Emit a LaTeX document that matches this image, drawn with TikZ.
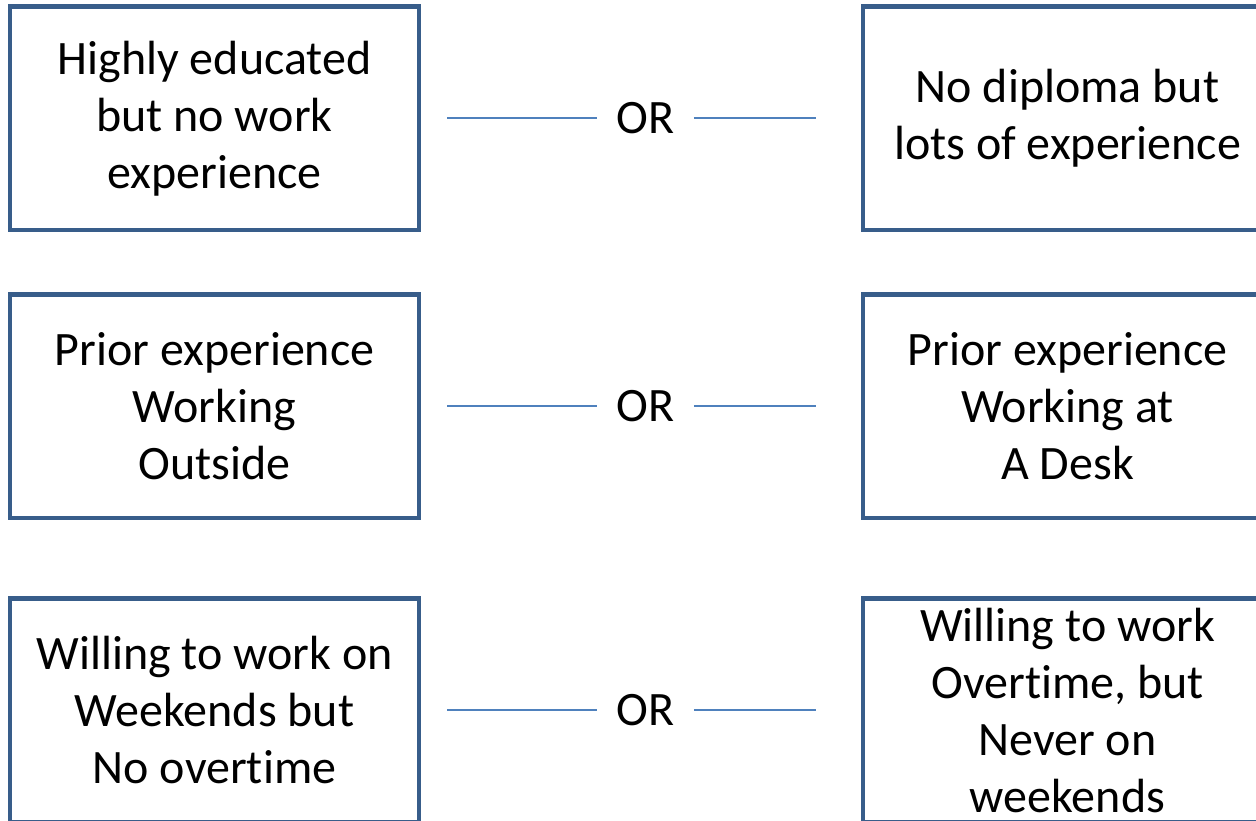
\documentclass[tikz,border=0pt]{standalone}
\usepackage{fontspec}
\setmainfont{Carlito}[Ligatures={NoCommon}]
\usetikzlibrary{positioning}
\definecolor{boxline}{HTML}{385D8A}
\definecolor{orline}{HTML}{4F81BD}

\begin{document}
\begin{tikzpicture}[
    x=1pt, y=-1pt,
    box/.style={draw=boxline, line width=4.5pt, align=center, minimum width=409pt, minimum height=223.5pt, inner sep=0pt, font=\fontsize{48}{57}\selectfont},
    orbox/.style={minimum width=97pt, inner sep=0pt, font=\fontsize{48}{57}\selectfont},
    link/.style={draw=orline, line width=2pt}
]
\useasboundingbox (0,0) rectangle (1256,820);
\clip (0,0) rectangle (1256,820);
\node[box] (l1) at (214.5,118.25) {Highly educated\\but no work\\experience};
\node[box, right=439.5pt of l1] (r1) {No diploma but\\lots of experience};
\node[box, below=60pt of l1] (l2) {Prior experience\\Working\\Outside};
\node[box, right=439.5pt of l2] (r2) {Prior experience\\Working at\\A Desk};
\node[box, below=76pt of l2] (l3) {Willing to work on\\Weekends but\\No overtime};
\node[box, right=439.5pt of l3] (r3) {Willing to work\\Overtime, but\\Never on\\weekends};
\node[orbox, right=175.25pt of l1] (or1) {OR};
\node[orbox, right=175.25pt of l2] (or2) {OR};
\node[orbox, right=175.25pt of l3] (or3) {OR};
\draw[link, shorten <=26pt] (l1) -- (or1);
\draw[link, shorten >=45.25pt] (or1) -- (r1);
\draw[link, shorten <=26pt] (l2) -- (or2);
\draw[link, shorten >=45.25pt] (or2) -- (r2);
\draw[link, shorten <=26pt] (l3) -- (or3);
\draw[link, shorten >=45.25pt] (or3) -- (r3);
\end{tikzpicture}
\end{document}
